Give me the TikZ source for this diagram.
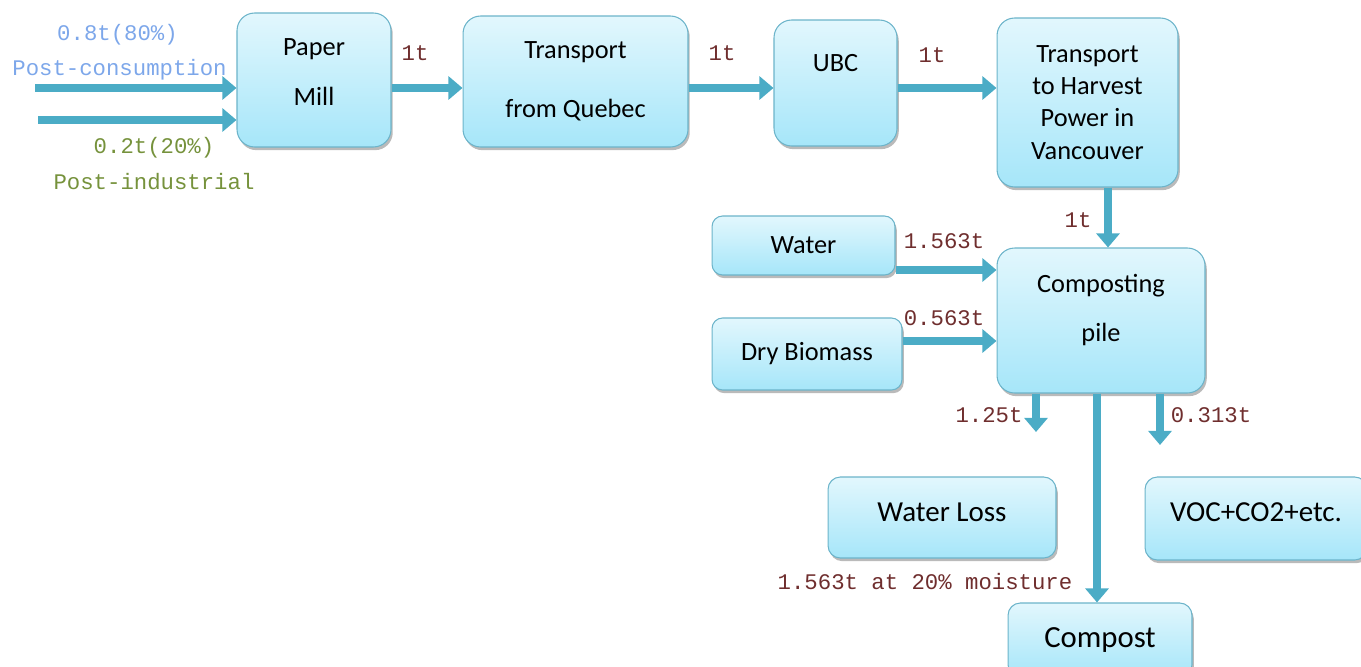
\documentclass[tikz,border=0pt]{standalone}
\usepackage{fontspec}
\setmainfont{Carlito}
\setmonofont{Liberation Mono}
\usetikzlibrary{arrows.meta, shadows}
\definecolor{flowTeal}{HTML}{4BACC6}
\definecolor{boxTop}{HTML}{E2F7FD}
\definecolor{boxBottom}{HTML}{A6E6F9}
\definecolor{boxEdge}{HTML}{6CB4CA}
\definecolor{qtyRed}{HTML}{6F2E2E}
\definecolor{consBlue}{HTML}{7DA7EA}
\definecolor{indGreen}{HTML}{76923C}

\tikzset{
  stage/.style={draw=boxEdge, line width=0.6pt, rounded corners=10pt,
    top color=boxTop, bottom color=boxBottom, align=center,
    font=\fontsize{15}{18.3}\selectfont,
    drop shadow={shadow xshift=1pt, shadow yshift=-1.8pt, fill=black!45, opacity=0.6}},
  flow/.style={draw=flowTeal, line width=5pt, -{Triangle[length=8pt,width=13pt]}},
  qty/.style={text=qtyRed, font=\ttfamily\fontsize{12.7}{14}\selectfont, inner sep=0pt}
}

\begin{document}
\begin{tikzpicture}[x=0.02cm, y=-0.02cm]
  \useasboundingbox (0,0) rectangle (1361,666);

  % process chain
  \node[stage, minimum width=3.08cm, minimum height=2.68cm, text depth=0.32cm] (mill) at (314,80) {Paper\\[10pt]Mill};
  \node[stage, minimum width=4.5cm, minimum height=2.62cm] (quebec) at (575.5,81.5) {Transport\\[15pt]from Quebec};
  \node[stage, minimum width=2.46cm, minimum height=2.52cm, text depth=0.8cm] (ubc) at (835.5,83) {UBC};
  \node[stage, minimum width=3.62cm, minimum height=3.38cm] (thp) at (1087.5,102.5) {Transport\\to Harvest\\Power in\\Vancouver};
  \node[stage, minimum width=3.66cm, minimum height=1.18cm, rounded corners=6pt] (water) at (803.5,245.5) {Water};
  \node[stage, minimum width=3.8cm, minimum height=1.44cm, rounded corners=6pt] (biomass) at (807,354) {Dry Biomass};
  \node[stage, minimum width=4.16cm, minimum height=2.9cm, text depth=0.5cm] (pile) at (1101,320.5) {Composting\\[10pt]pile};
  \node[stage, minimum width=4.56cm, minimum height=1.62cm, rounded corners=7pt, text depth=0.2cm,
        font=\fontsize{16.5}{20}\selectfont] (loss) at (942,517.5) {Water Loss};
  \node[stage, minimum width=4.44cm, minimum height=1.66cm, rounded corners=7pt, text depth=0.24cm,
        font=\fontsize{16.5}{20}\selectfont] (voc) at (1256,518.5) {VOC+CO2+etc.};
  \node[stage, minimum width=3.68cm, minimum height=1.48cm, rounded corners=7pt,
        font=\fontsize{17.5}{21}\selectfont] (compost) at (1100,640) {Compost};

  % levels and free ends
  \coordinate (row) at (0,88);
  \coordinate (cons-in) at (35,88);
  \coordinate (ind-in) at (38,120);
  \coordinate (down-col) at (1108,0);
  \coordinate (water-lvl) at (0,270);
  \coordinate (biomass-lvl) at (0,341);
  \coordinate (loss-out) at (1036,432);
  \coordinate (voc-out) at (1160,445);
  \coordinate (compost-col) at (1097,0);

  % flows
  \draw[flow] (cons-in) -- (mill.west |- cons-in);
  \draw[flow] (ind-in) -- (mill.west |- ind-in);
  \draw[flow] (mill.east |- row) -- (quebec.west |- row);
  \draw[flow] (quebec.east |- row) -- (ubc.west |- row);
  \draw[flow] (ubc.east |- row) -- (thp.west |- row);
  \draw[flow] (thp.south -| down-col) -- (pile.north -| down-col);
  \draw[flow] (water.east |- water-lvl) -- (pile.west |- water-lvl);
  \draw[flow] (biomass.east |- biomass-lvl) -- (pile.west |- biomass-lvl);
  \draw[flow] (pile.south -| loss-out) -- (loss-out);
  \draw[flow] (pile.south -| compost-col) -- (compost.north -| compost-col);
  \draw[flow] (pile.south -| voc-out) -- (voc-out);

  % quantities
  \node[qty, text=consBlue] (cons-pct) at (117.5,35) {0.8t(80\%)};
  \node[qty, text=consBlue] (cons-name) at (119.5,70) {Post-consumption};
  \node[qty, text=indGreen] (ind-pct) at (154,148) {0.2t(20\%)};
  \node[qty, text=indGreen] (ind-name) at (154,182) {Post-industrial};
  \node[qty] (mill-out) at (415,53) {1t};
  \node[qty] (quebec-out) at (722,53) {1t};
  \node[qty] (ubc-out) at (932,55) {1t};
  \node[qty] (thp-out) at (1078,220) {1t};
  \node[qty] (water-in) at (944,241) {1.563t};
  \node[qty] (biomass-in) at (944,318) {0.563t};
  \node[qty] (loss-qty) at (989,415) {1.25t};
  \node[qty] (voc-qty) at (1211,415) {0.313t};
  \node[qty] (compost-qty) at (925,582) {1.563t at 20\% moisture};
\end{tikzpicture}
\end{document}
